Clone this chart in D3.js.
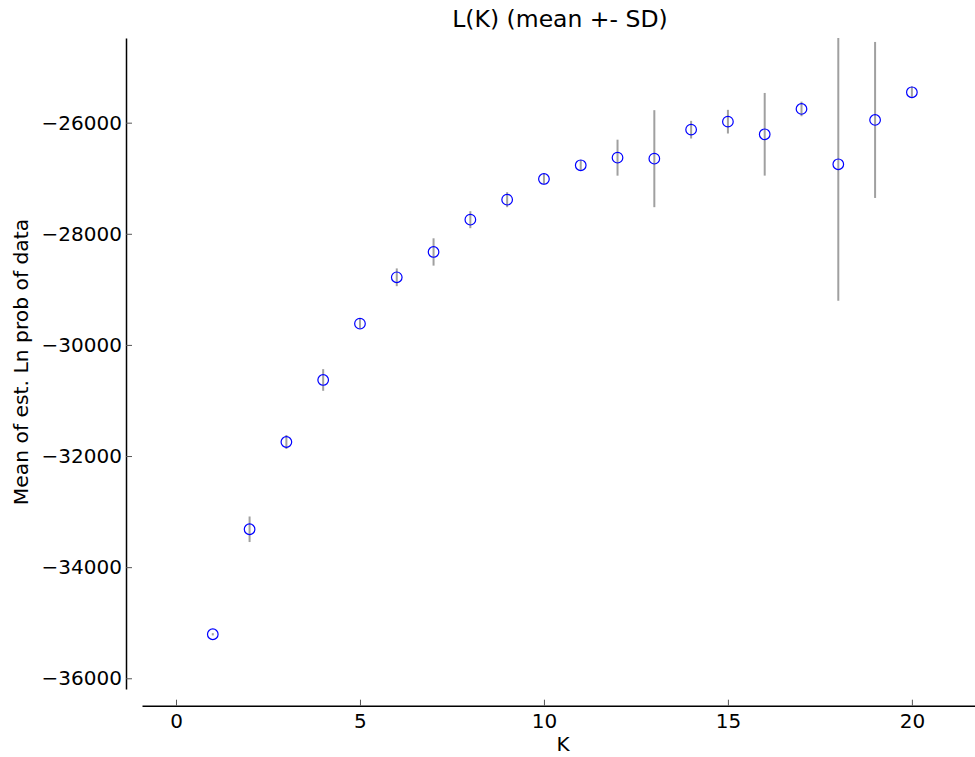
<!DOCTYPE html>
<html>
<head>
<meta charset="utf-8">
<script src="https://cdn.jsdelivr.net/npm/d3@7"></script>
<style>
  html, body { margin: 0; padding: 0; background: #fff; }
  svg { display: block; font-family: "DejaVu Sans", sans-serif; }
</style>
</head>
<body>
<svg id="chart" width="975" height="757"></svg>
<script>
// ---- data ----
const kValues = [1, 2, 3, 4, 5, 6, 7, 8, 9, 10, 11, 12, 13, 14, 15, 16, 17, 18, 19, 20];
const meanLnP = [-35208, -33318, -31747, -30631, -29618, -28783, -28327, -27746, -27386, -27013,
                 -26767, -26630, -26648, -26126, -25982, -26209, -25753, -26749, -25951, -25453];
const sdLnP   = [20, 230, 126, 195, 90, 160, 246, 153, 135, 99,
                 96, 324, 873, 159, 213, 744, 131, 2455, 1404, 104];
const xTicks = [0, 5, 10, 15, 20];
const yTicks = [-36000, -34000, -32000, -30000, -28000, -26000];
const titleText = "L(K) (mean +- SD)";
const xLabel = "K";
const yLabel = "Mean of est. Ln prob of data";

const svg = d3.select("#chart");
const axL = 142, axR = 984, axT = 38, axB = 689;
const x = d3.scaleLinear().domain([-0.924, 21.96]).range([axL, axR]);
const y = d3.scaleLinear().domain([-36193, -24476]).range([axB, axT]);

svg.append("defs").append("clipPath").attr("id", "clip")
  .append("rect").attr("x", axL).attr("y", axT).attr("width", axR - axL).attr("height", axB - axT);

const data = kValues.map((k, i) => ({k, m: meanLnP[i], sd: sdLnP[i]}));

// error bars
const g = svg.append("g").attr("clip-path", "url(#clip)");
g.selectAll("line.err").data(data).join("line")
  .attr("class", "err")
  .attr("x1", d => x(d.k)).attr("x2", d => x(d.k))
  .attr("y1", d => y(d.m - d.sd)).attr("y2", d => y(d.m + d.sd))
  .attr("stroke", "#a0a0a0").attr("stroke-width", 2);

g.selectAll("circle").data(data).join("circle")
  .attr("cx", d => x(d.k)).attr("cy", d => y(d.m)).attr("r", 5.3)
  .attr("fill", "none").attr("stroke", "#0000ff").attr("stroke-width", 1.2);

// y axis (offset outward)
const yAxis = d3.axisLeft(y).tickValues(yTicks).tickFormat(d3.format("d"))
  .tickSizeInner(-6).tickSizeOuter(0).tickPadding(4);
const gy = svg.append("g").attr("transform", "translate(126,0)").call(yAxis);
gy.select(".domain").attr("stroke", "#000").attr("stroke-width", 1.5);
gy.selectAll(".tick line").attr("stroke", "#555").attr("stroke-width", 1);
gy.selectAll(".tick text").attr("font-size", 20).attr("fill", "#000")
  .attr("font-family", "DejaVu Sans");

// x axis (offset outward)
const xAxis = d3.axisBottom(x).tickValues(xTicks).tickFormat(d3.format("d"))
  .tickSizeInner(-6).tickSizeOuter(0).tickPadding(8);
const gx = svg.append("g").attr("transform", "translate(0,705.7)").call(xAxis);
gx.select(".domain").attr("stroke", "#000").attr("stroke-width", 1.5);
gx.selectAll(".tick line").attr("stroke", "#555").attr("stroke-width", 1);
gx.selectAll(".tick text").attr("font-size", 20).attr("fill", "#000")
  .attr("font-family", "DejaVu Sans");

// title and labels
svg.append("text").attr("x", 560).attr("y", 27).attr("text-anchor", "middle")
  .attr("font-size", 23.5).attr("fill", "#000").text(titleText);
svg.append("text").attr("x", 563).attr("y", 751).attr("text-anchor", "middle")
  .attr("font-size", 20).attr("fill", "#000").text(xLabel);
svg.append("text").attr("transform", "translate(28,362) rotate(-90)")
  .attr("text-anchor", "middle").attr("font-size", 20.3).attr("fill", "#000").text(yLabel);
</script>
</body>
</html>
